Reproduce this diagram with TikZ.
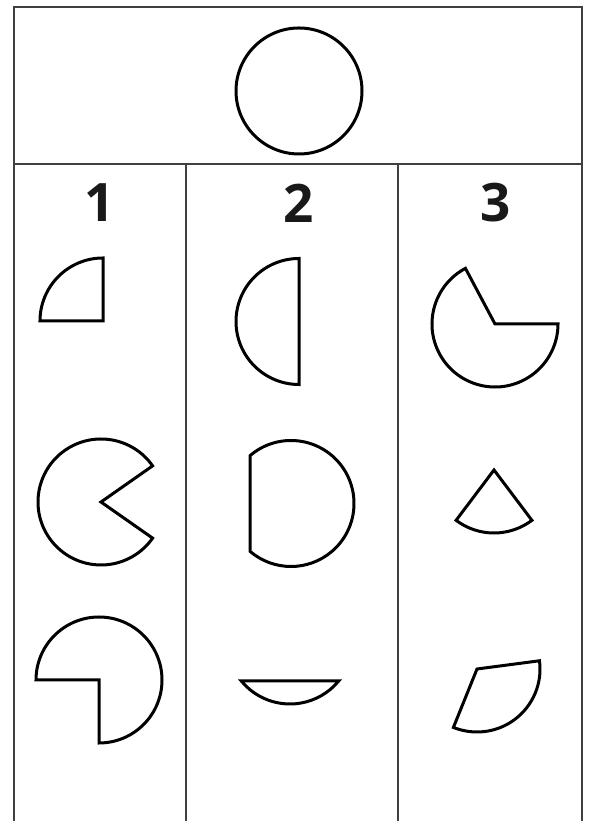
\documentclass[tikz,border=0pt]{standalone}
\usepackage{fontspec}
\newfontfamily\digitfont{Open Sans}
\tikzset{
  framestyle/.style={draw=black!75, line width=1.4pt},
  shapestyle/.style={draw=black, line width=3pt, line join=miter},
  numstyle/.style={font=\digitfont\bfseries\fontsize{53}{60}\selectfont, inner sep=0pt, text=black!90},
}
\begin{document}
\begin{tikzpicture}[x=1pt,y=1pt]
\useasboundingbox (0,0) rectangle (590,821);
% frame
\coordinate (tl) at (14,814);
\coordinate (tr) at (582,814);
\coordinate (bl) at (14,0);
\coordinate (br) at (582,0);
\draw[framestyle] (bl) -- (tl) -- (tr) -- (br);
\draw[framestyle] (14,657) -- (582,657);
\draw[framestyle] (186,657) -- (186,0);
\draw[framestyle] (398,657) -- (398,0);
% top circle
\draw[shapestyle] (299,730) circle (63);
% column numbers
\node[numstyle] (n1) at (100,618) {1};
\node[numstyle] (n2) at (299,618) {2};
\node[numstyle] (n3) at (496,618) {3};
% column 1
\draw[shapestyle] (103,500) -- ++(90:63) arc (90:180:63) -- cycle;
\draw[shapestyle] (101,319) -- ++(35:63) arc (35:325:63) -- cycle;
\draw[shapestyle] (99,141) -- ++(180:63) arc (180:-90:63) -- cycle;
% column 2
\draw[shapestyle] (299,499.5) ++(90:63) arc (90:270:63) -- cycle;
\draw[shapestyle] (291,317.5) ++(130.6:63) arc (130.6:-130.6:63) -- cycle;
\draw[shapestyle] (290,180) ++(-140.6:63) arc (-140.6:-39.4:63) -- cycle;
% column 3
\draw[shapestyle] (495,497) -- ++(118:63) arc (118:360:63) -- cycle;
\draw[shapestyle] (494,351) -- ++(-127:63) arc (-127:-53:63) -- cycle;
\draw[shapestyle] (477,152) -- ++(7.5:63) arc (7.5:-112:63) -- cycle;
\end{tikzpicture}
\end{document}
